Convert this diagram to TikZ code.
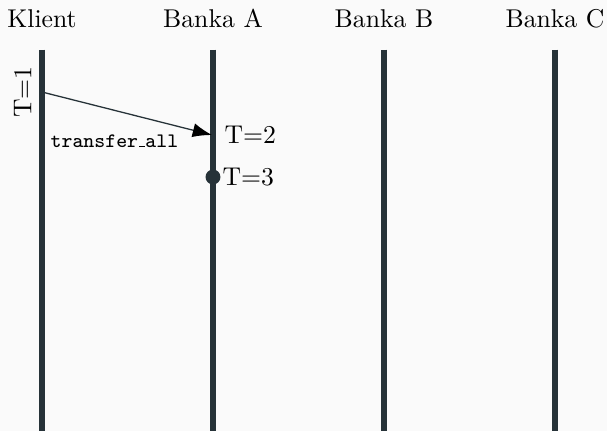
\documentclass[tikz,border=0pt]{standalone}
\usetikzlibrary{arrows.meta}
\definecolor{bg}{HTML}{FAFAFA}
\definecolor{lifeline}{HTML}{263238}
\newcommand{\lowbar}{\leavevmode\kern.06em\vbox{\hrule width.3em}}
\begin{document}
\begin{tikzpicture}[x=0.389pt,y=-0.389pt,
  lane/.style={draw=lifeline,line width=2.2pt},
  head/.style={font=\normalsize,text=black,inner sep=0pt,anchor=base},
  msg/.style={draw=lifeline,line width=0.5pt,-{Latex[length=7.5pt,width=5.5pt,color=black]}},
  tlabel/.style={inner sep=0pt,anchor=west,text=black}]
\fill[bg] (0,0) rectangle (607,431);
\useasboundingbox (0,0) rectangle (607,431);
% headers
\node[head] (hK) at (42,27) {Klient};
\node[head] (hA) at (213,27) {Banka A};
\node[head] (hB) at (384,27) {Banka B};
\node[head] (hC) at (555,27) {Banka C};
% lifelines
\coordinate (tK) at (42,49.5); \coordinate (bK) at (42,431);
\coordinate (tA) at (213,49.5); \coordinate (bA) at (213,431);
\coordinate (tB) at (384,49.5); \coordinate (bB) at (384,431);
\coordinate (tC) at (555,49.5); \coordinate (bC) at (555,431);
\draw[lane] (tK) -- (bK);
\draw[lane] (tA) -- (bA);
\draw[lane] (tB) -- (bB);
\draw[lane] (tC) -- (bC);
% message
\coordinate (s) at (42,92);
\coordinate (e) at (212,135);
\draw[msg] (s) -- (e);
\node[rotate=90,anchor=south,inner sep=0pt,text=black] (t1) at (32,92) {T=1};
\node[tlabel] (t2) at (224,135) {T=2};
\node[text=black,inner sep=0pt] (lbl) at (114.5,141) {\footnotesize\ttfamily transfer\lowbar all};
% event
\fill[lifeline] (213,177) circle (2.9pt) coordinate (d);
\node[tlabel] (t3) at (222,177) {T=3};
\end{tikzpicture}
\end{document}
